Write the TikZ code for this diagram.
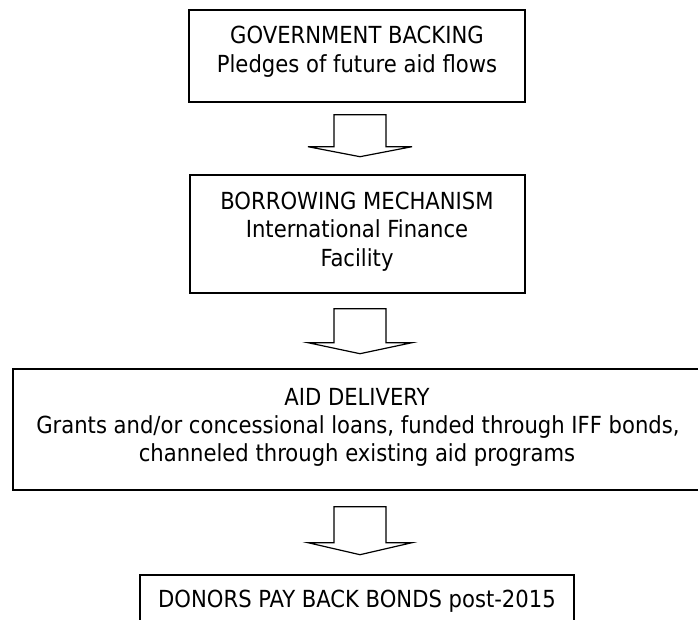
\documentclass[tikz,border=0pt]{standalone}
\usepackage{fontspec}
\setmainfont{DejaVu Sans Condensed}
\usetikzlibrary{calc}
\tikzset{
  box/.style={draw=black, line width=1.4pt, rectangle, inner sep=0pt},
  txt/.style={anchor=base, inner sep=0pt, font=\fontsize{23.5}{28}\selectfont},
  blockarrow/.style={draw=black, line width=1.2pt, line join=miter, fill=white}
}
\begin{document}
\begin{tikzpicture}[x=1pt, y=-1pt]
\useasboundingbox (0,0) rectangle (698,620);
% boxes
\node[box, minimum width=336pt, minimum height=92pt] (b1) at (357,56) {};
\node[box, minimum width=335pt, minimum height=118pt] (b2) at (357.5,234) {};
\node[box, minimum width=688pt, minimum height=121pt] (b3) at (357,429.5) {};
\node[box, minimum width=434pt, minimum height=70pt] (b4) at (357,610) {};
% texts
\node[txt] (t1a) at (357,44) {GOVERNMENT BACKING};
\node[txt] (t1b) at (357,73) {Pledges of future aid flows};
\node[txt] (t2a) at (357,210) {BORROWING MECHANISM};
\node[txt] (t2b) at (357,238) {International Finance};
\node[txt] (t2c) at (357,266) {Facility};
\node[txt] (t3a) at (357,405) {AID DELIVERY};
\node[txt] (t3b) at (358,433) {Grants and/or concessional loans, funded through IFF bonds,};
\node[txt] (t3c) at (357,461) {channeled through existing aid programs};
\node[txt] (t4a) at (357,607) {DONORS PAY BACK BONDS post-2015};
% block arrows
\coordinate (a1) at ($(b1.south)+(3,12)$);
\coordinate (a2) at ($(b2.south)+(2.5,15)$);
\coordinate (a3) at ($(b3.south)+(3,16)$);
\draw[blockarrow] ($(a1)+(-26,0)$) -- ++(52,0) -- ++(0,32) -- ++(26,0) -- ++(-52,10) -- ++(-52,-10) -- ++(26,0) -- cycle;
\draw[blockarrow] ($(a2)+(-26,0)$) -- ++(52,0) -- ++(0,34) -- ++(26,0) -- ++(-52,11) -- ++(-52,-11) -- ++(26,0) -- cycle;
\draw[blockarrow] ($(a3)+(-26,0)$) -- ++(52,0) -- ++(0,36) -- ++(26,0) -- ++(-52,12) -- ++(-52,-12) -- ++(26,0) -- cycle;
\end{tikzpicture}
\end{document}
